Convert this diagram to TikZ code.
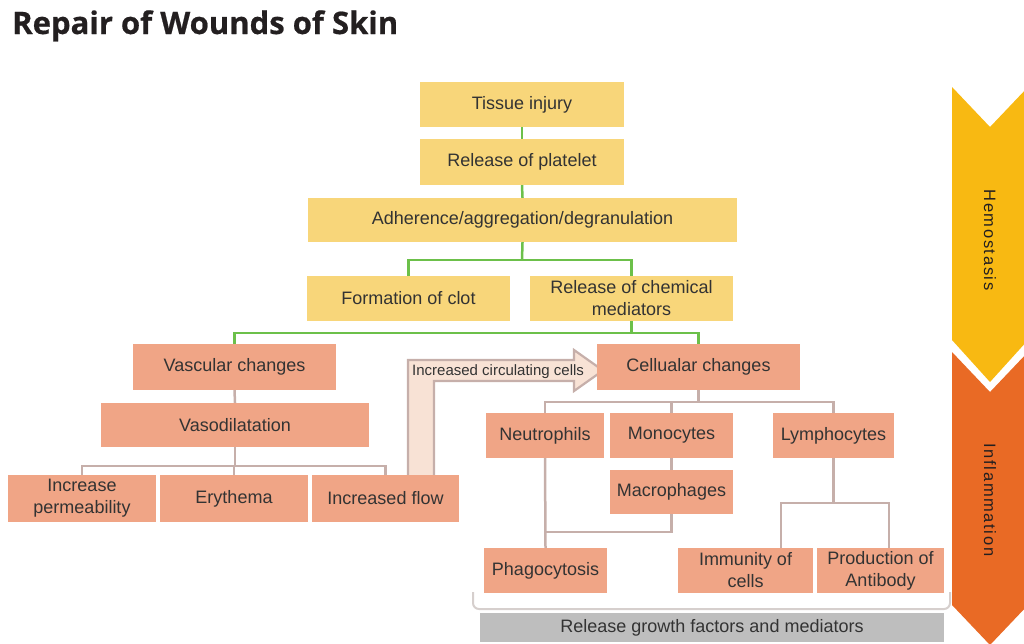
\documentclass[tikz,border=0pt]{standalone}
\usepackage{graphicx}
\usepackage{fontspec}
\setmainfont{Liberation Sans}
\newfontfamily\titlefont[BoldFeatures={FakeBold=0.6}]{Open Sans}
\newfontfamily\phasefont[LetterSpace=10]{Liberation Sans}
\usetikzlibrary{calc,backgrounds}
\definecolor{boxyellow}{HTML}{F8D67A}
\definecolor{boxsalmon}{HTML}{F0A586}
\definecolor{linegreen}{HTML}{6CC04A}
\definecolor{linegray}{HTML}{C6AFAA}
\definecolor{chevyellow}{HTML}{F8B912}
\definecolor{chevorange}{HTML}{E96A25}
\definecolor{bandfill}{HTML}{F8E2D5}
\definecolor{bargray}{HTML}{BEBEBE}
\definecolor{textdark}{HTML}{333333}
\definecolor{titledark}{HTML}{231F20}
\definecolor{bracketgray}{HTML}{D6CFCD}
\tikzset{
  basebox/.style={inner sep=0pt, text=textdark, font=\fontsize{18}{22}\selectfont, align=center},
  ybox/.style={basebox, fill=boxyellow},
  sbox/.style={basebox, fill=boxsalmon},
  gline/.style={draw=linegreen, line width=2.5pt},
  pline/.style={draw=linegray, line width=2.5pt},
  phasetext/.style={rotate=-90, inner sep=0pt, text=titledark, font=\phasefont\fontsize{16.5}{18}\selectfont},
}
\begin{document}
\begin{tikzpicture}[x=1pt,y=-1pt]
\useasboundingbox (0,0) rectangle (1024,643);
% title
\node[anchor=base west, inner sep=0pt, text=titledark] (title) at (12,34)
  {\resizebox{386pt}{!}{\titlefont\bfseries Repair of Wounds of Skin}};
% phase chevrons
\begin{scope}
\clip (0,0) rectangle (1024,643);
\fill[chevyellow] (952,87) -- (990,127) -- (1028,87) -- (1028,340) -- (990,382) -- (952,340) -- cycle;
\fill[chevorange] (952,352) -- (990,392) -- (1028,352) -- (1028,605) -- (990,645) -- (952,605) -- cycle;
\end{scope}
\node[phasetext] (hemo) at (990,240) {Hemostasis};
\node[phasetext] (infl) at (990,500) {Inflammation};
% hemostasis boxes
\node[ybox, minimum width=204pt, minimum height=45pt] (inj) at (522,104.5) {Tissue injury};
\node[ybox, minimum width=204pt, minimum height=46pt] (plat) at (522,162) {Release of platelet};
\node[ybox, minimum width=429pt, minimum height=44pt] (adh) at (522.5,220) {Adherence/aggregation/degranulation};
\node[ybox, minimum width=203pt, minimum height=45pt] (clot) at (408.5,298.5) {Formation of clot};
\node[ybox, minimum width=203pt, minimum height=45pt] (chem) at (631.5,298.5) {Release of chemical\\mediators};
% inflammation boxes
\node[sbox, minimum width=203pt, minimum height=46pt] (vasc) at (234.5,367) {Vascular changes};
\node[sbox, minimum width=268pt, minimum height=44pt] (vdil) at (235,425) {Vasodilatation};
\node[sbox, minimum width=148pt, minimum height=47pt] (perm) at (82,498.5) {Increase\\permeability};
\node[sbox, minimum width=148pt, minimum height=47pt] (ery) at (234,498.5) {Erythema};
\node[sbox, minimum width=147pt, minimum height=47pt] (flow) at (385.5,498.5) {Increased flow};
\node[sbox, minimum width=203pt, minimum height=46pt] (cell) at (698.5,367) {Cellualar changes};
\node[sbox, minimum width=118pt, minimum height=45pt] (neut) at (545,435.5) {Neutrophils};
\node[sbox, minimum width=123pt, minimum height=45pt] (mono) at (671.5,435.5) {Monocytes};
\node[sbox, minimum width=121pt, minimum height=45pt] (lymph) at (833.5,435.5) {Lymphocytes};
\node[sbox, minimum width=123pt, minimum height=44pt] (macro) at (671.5,492) {Macrophages};
\node[sbox, minimum width=123pt, minimum height=45pt] (phago) at (545.5,570.5) {Phagocytosis};
\node[sbox, minimum width=135pt, minimum height=45pt] (imm) at (745.5,570.5) {Immunity of\\cells};
\node[sbox, minimum width=127pt, minimum height=45pt] (prod) at (880.5,570.5) {Production of\\Antibody};
% bottom bracket and bar
\draw[draw=bracketgray, line width=2pt, rounded corners=6pt] (473,592) -- (473,609) -- (950,609) -- (950,592);
\node[basebox, fill=bargray, minimum width=464pt, minimum height=29pt] (rel) at (712,627.5) {Release growth factors and mediators};
% increased circulating cells band (behind boxes)
\begin{pgfonlayer}{background}
\fill[bandfill] (408,475) -- (408,360) -- (574,360) -- (574,350) -- (603,370.5) -- (574,391) -- (574,381) -- (434,381) -- (434,475) -- cycle;
\draw[draw=linegray, line width=2.2pt, line join=miter] (408,475) -- (408,360) -- (574,360) -- (574,350) -- (603,370.5) -- (574,391) -- (574,381) -- (434,381) -- (434,475);
\end{pgfonlayer}
\node[anchor=base west, inner sep=0pt, text=textdark, font=\fontsize{15}{15}\selectfont] (circ) at (412,375) {Increased circulating cells};
% green connectors
\coordinate (j1) at (522,260);
\coordinate (j2) at (631.5,333);
\draw[gline] (inj.south) -- (plat.north);
\draw[gline] (plat.south) -- (adh.north);
\draw[gline] (adh.south) -- (j1);
\draw[gline] (clot.north) |- (j1) -| (chem.north);
\draw[gline] (chem.south) -- (j2);
\draw[gline] (vasc.north) |- (j2) -| (cell.north);
% gray connectors
\coordinate (j3) at (235,466);
\coordinate (j4) at (698.5,402);
\coordinate (j5) at (545,532);
\coordinate (j6) at (833.5,503);
\draw[pline] (vasc.south) -- (vdil.north);
\draw[pline] (vdil.south) -- (j3);
\draw[pline] (perm.north) |- (j3) -| (flow.north);
\draw[pline] (ery.north) -- (ery.north |- j3);
\draw[pline] (cell.south) -- (j4);
\draw[pline] (neut.north) |- (j4) -| (lymph.north);
\draw[pline] (mono.north) -- (mono.north |- j4);
\draw[pline] (mono.south) -- (macro.north);
\draw[pline] (neut.south) -- (phago.north);
\draw[pline] (macro.south) |- (j5);
\draw[pline] (lymph.south) -- (j6);
\draw[pline] ([xshift=35.5pt]imm.north) |- (j6) -| ([xshift=8.5pt]prod.north);
\end{tikzpicture}
\end{document}
